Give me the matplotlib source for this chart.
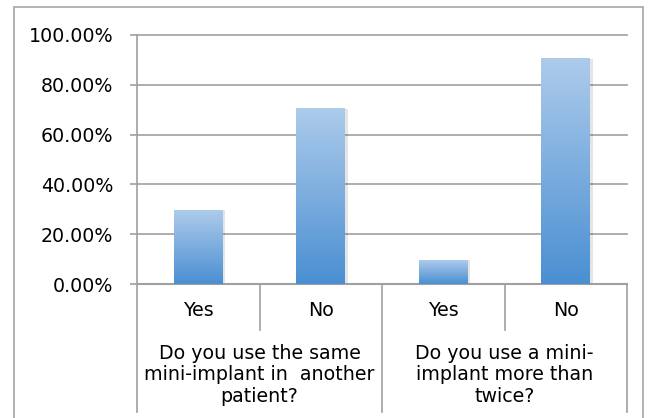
import numpy as np
import matplotlib
matplotlib.use("Agg")
import matplotlib.pyplot as plt
from matplotlib.patches import Rectangle
from matplotlib.colors import LinearSegmentedColormap

# Survey answers (share of respondents, %)
answers = ["Yes", "No", "Yes", "No"]
values = [29.6, 70.4, 9.6, 90.4]
questions = ["Do you use the same\nmini-implant in  another\npatient?",
             "Do you use a mini-\nimplant more than\ntwice?"]
y_ticks = [0, 20, 40, 60, 80, 100]

plt.rcParams['font.family'] = ['DejaVu Sans']
W, H = 649, 418
fig = plt.figure(figsize=(W / 100, H / 100), dpi=100)
FS = 13.7

# outer chart frame (open at the bottom)
fig.add_artist(Rectangle((14 / W, -0.1), (643 - 14) / W, 1.1 - 7 / H,
                         transform=fig.transFigure, fill=False,
                         edgecolor="#a6a6a6", linewidth=1.2))

left, right, top, bottom = 137, 627, 35, 284
ax = fig.add_axes([left / W, 1 - bottom / H, (right - left) / W, (bottom - top) / H])

grid_col = "#a0a0a0"
x = np.arange(len(answers))
bars = ax.bar(x, values, width=0.4, color="none", zorder=3)

cmap = LinearSegmentedColormap.from_list("barfill", ["#4a8fd2", "#adcbeb"])
grad = np.linspace(0, 1, 256).reshape(-1, 1)
for b in bars:
    x0, w, h = b.get_x(), b.get_width(), b.get_height()
    # soft shadow on the right edge
    ax.add_patch(Rectangle((x0 + 0.02, 0), w, h, color="#000000", alpha=0.10,
                           zorder=2.5, linewidth=0))
    ax.imshow(grad, cmap=cmap, origin="lower", aspect="auto",
              extent=[x0, x0 + w, 0, h], zorder=3, interpolation="bilinear")

ax.set_xlim(-0.5, len(answers) - 0.5)
ax.set_ylim(0, 100)
ax.set_yticks(y_ticks)
ax.set_yticklabels([f"{v:.2f}%" for v in y_ticks], fontsize=FS)
ax.yaxis.grid(True, color=grid_col, linewidth=1.2, zorder=1)
for gl in ax.get_ygridlines():
    gl.set_clip_on(False)
ax.set_axisbelow(True)
ax.tick_params(axis="y", length=5, width=1.2, color=grid_col, pad=12)
ax.set_xticks([])
for s in ["top", "right"]:
    ax.spines[s].set_visible(False)
ax.spines["left"].set_color(grid_col)
ax.spines["left"].set_linewidth(1.2)
ax.spines["bottom"].set_color(grid_col)
ax.spines["bottom"].set_linewidth(1.5)

xt = ax.get_xaxis_transform()
ah = bottom - top
short_end = -(330 - bottom) / ah
long_end = -(412 - bottom) / ah
# dividers between categories and between question groups
for xd in [0.5, 2.5]:
    ax.plot([xd, xd], [0, short_end], transform=xt, color=grid_col, lw=1.2, clip_on=False)
for xd in [-0.5, 1.5, 3.5]:
    ax.plot([xd, xd], [0, long_end], transform=xt, color=grid_col, lw=1.2, clip_on=False)

for xi, lab in zip(x, answers):
    ax.text(xi, -(310 - bottom) / ah, lab, transform=xt, ha="center", va="center", fontsize=FS)
for gi, q in enumerate(questions):
    ax.text(2 * gi + 0.5, -(375 - bottom) / ah, q, transform=xt, ha="center", va="center",
            fontsize=FS, linespacing=1.15)

fig.savefig("out.png", dpi=100)
